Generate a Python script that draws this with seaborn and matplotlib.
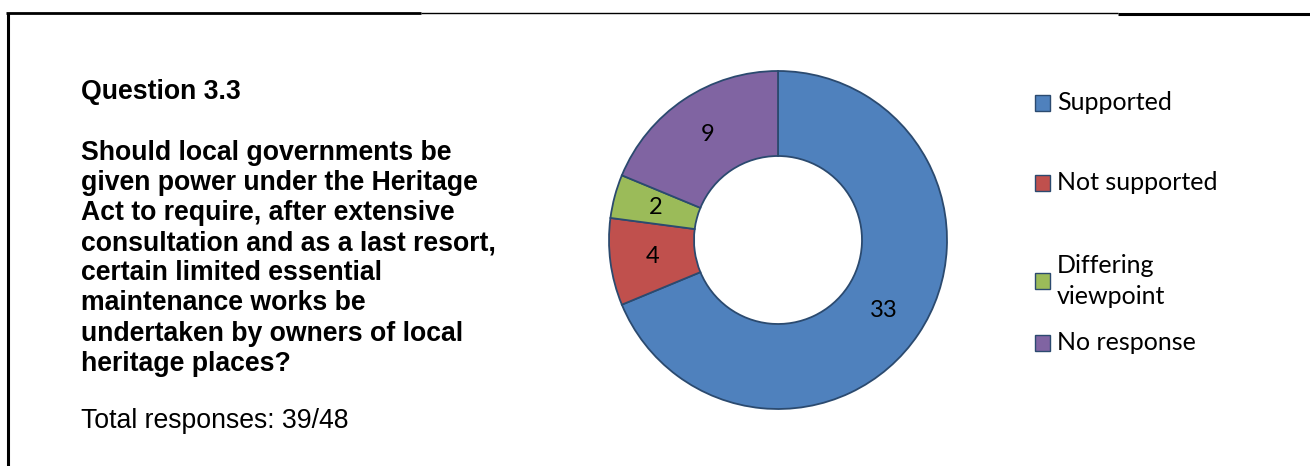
import matplotlib
matplotlib.use("Agg")
import matplotlib.pyplot as plt
import seaborn as sns
from matplotlib.lines import Line2D
from matplotlib.patches import Rectangle

# Survey results for Question 3.3
categories = ["Supported", "Not supported", "Differing\nviewpoint", "No response"]
counts = [33, 4, 2, 9]
colors = ["#4F81BD", "#C0504D", "#9BBB59", "#8064A2"]

question_title = "Question 3.3"
question_lines = [
    "Should local governments be",
    "given power under the Heritage",
    "Act to require, after extensive",
    "consultation and as a last resort,",
    "certain limited essential",
    "maintenance works be",
    "undertaken by owners of local",
    "heritage places?",
]

total = sum(counts)
answered = total - counts[categories.index("No response")]

sns.set_theme(style="white")
plt.rcParams["font.family"] = ["Liberation Sans", "DejaVu Sans"]

W, H = 1310, 466
fig = plt.figure(figsize=(W / 100, H / 100), dpi=100)
fig.patch.set_facecolor("white")


def fx(px):
    return px / W


def fy(py):
    return 1 - py / H


# Frame lines around the panel
frame = dict(color="black", solid_capstyle="butt")
fig.add_artist(Line2D([fx(6), fx(421)], [fy(13), fy(13)], lw=2.0, **frame))
fig.add_artist(Line2D([fx(421), fx(1118)], [fy(12.6), fy(12.6)], lw=1.0, **frame))
fig.add_artist(Line2D([fx(1118), fx(1310)], [fy(13.6), fy(13.6)], lw=2.2, **frame))
fig.add_artist(Line2D([fx(7.5), fx(7.5)], [fy(12.5), fy(466)], lw=2.2, **frame))

# Question text
text_size = 19.2
fig.text(fx(81), fy(99), question_title, fontsize=text_size, fontweight="bold",
         ha="left", va="baseline", color="black")
for i, line in enumerate(question_lines):
    fig.text(fx(81), fy(160 + i * 30.1), line, fontsize=text_size, fontweight="bold",
             ha="left", va="baseline", color="black")
fig.text(fx(81), fy(428), f"Total responses: {answered}/{total}", fontsize=text_size,
         ha="left", va="baseline", color="black")

# Doughnut chart
cx, cy, r = 778, 240, 169
ax = fig.add_axes([fx(cx - r), fy(cy + r), 2 * r / W, 2 * r / H])
edge = "#2B4A6F"
wedges, _, autotexts = ax.pie(
    counts,
    colors=colors,
    startangle=90,
    counterclock=False,
    radius=1.0,
    autopct=lambda p: f"{round(p * total / 100):d}",
    pctdistance=0.75,
    wedgeprops=dict(width=0.503, edgecolor=edge, linewidth=1.3),
    textprops=dict(fontsize=17, color="black", family=["Lato", "DejaVu Sans"]),
)
ax.set_xlim(-1.0, 1.0)
ax.set_ylim(-1.0, 1.0)
ax.set_aspect("equal")
ax.axis("off")

# Legend entries
legend_y = [103, 183, 281, 343]
for cat, col, ly in zip(categories, colors, legend_y):
    fig.add_artist(Rectangle((fx(1035), fy(ly + 8)), 15 / W, 16 / H,
                             facecolor=col, edgecolor=edge, lw=1.0))
    fig.text(fx(1057), fy(ly), cat, fontsize=18, family=["Lato", "DejaVu Sans"],
             ha="left", va="center", color="black", linespacing=1.45)

fig.savefig("out.png", dpi=100, facecolor="white")
